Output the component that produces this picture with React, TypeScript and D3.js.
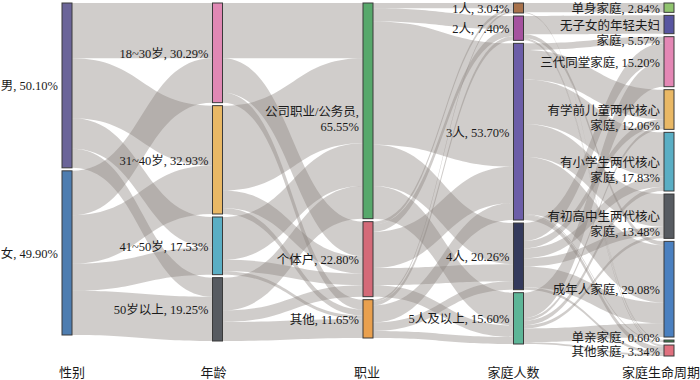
import React from 'react';
import * as d3 from 'd3';

// ---------- data ----------
const genderNames = ['男', '女'];
const genderValues = [50.10, 49.90];
const ageNames = ['18~30岁', '31~40岁', '41~50岁', '50岁以上'];
const ageValues = [30.29, 32.93, 17.53, 19.25];
const jobNames = ['公司职业/公务员', '个体户', '其他'];
const jobValues = [65.55, 22.80, 11.65];
const sizeNames = ['1人', '2人', '3人', '4人', '5人及以上'];
const sizeValues = [3.04, 7.40, 53.70, 20.26, 15.60];
const lifeNames = ['单身家庭', '无子女的年轻夫妇\n家庭', '三代同堂家庭', '有学前儿童两代核心\n家庭', '有小学生两代核心\n家庭', '有初高中生两代核心\n家庭', '成年人家庭', '单亲家庭', '其他家庭'];
const lifeValues = [2.84, 5.57, 15.20, 12.06, 17.83, 13.48, 29.08, 0.60, 3.34];
const columnTitles = ['性别', '年龄', '职业', '家庭人数', '家庭生命周期'];

// flows between adjacent columns (rows: source, cols: target)
const genderToAge = [
  [16.8, 18.2, 9.3, 5.8],
  [13.49, 14.73, 8.23, 13.45],
];
const ageToJob = [
  [16.8, 10.5, 2.99],
  [25.8, 5.3, 1.83],
  [13.0, 3.5, 1.03],
  [9.95, 3.5, 5.8],
];
const jobToSize = [
  [1.6, 4.0, 37.5, 12.5, 9.95],
  [0.9, 2.2, 11.0, 5.2, 3.5],
  [0.54, 1.2, 5.2, 2.56, 2.15],
];
const sizeToLife = [
  [2.84, 0, 0, 0, 0, 0, 0, 0, 0.2],
  [0, 5.57, 0, 0, 0, 0, 1.2, 0.3, 0.33],
  [0, 0, 2.0, 9.0, 13.5, 10.0, 17.4, 0.3, 1.5],
  [0, 0, 5.5, 2.2, 3.0, 2.5, 6.3, 0, 0.76],
  [0, 0, 7.7, 0.86, 1.33, 0.98, 4.18, 0, 0.55],
];

// ---------- styles ----------
const genderColors = ['#6b6599', '#4e7db0'];
const ageColors = ['#e088b4', '#e9b865', '#5aaec4', '#575b61'];
const jobColors = ['#57a86b', '#d46a78', '#e9a04e'];
const sizeColors = ['#a8714a', '#a5529f', '#6c5ea8', '#343a5c', '#5db597'];
const lifeColors = ['#90c46e', '#5855a0', '#e487b5', '#e9b865', '#5aaec4', '#575b61', '#4a80c0', '#3d8a4f', '#e0707e'];

const W = 700;
const H = 380;
const LEFT = 62;
const RIGHT = 674;
const NODE_W = 10;
const TOP = 3;
const BOTTOM = 356;
const GAP = 3;
const LINE_H = 15;
const LABEL_PAD = 4;
const FONT = '"Liberation Serif", "Times New Roman", "Noto Sans CJK SC", serif';
const titleDx = [5, -4, -1, -5, -8];

type Node = { name: string; value: number; color: string; col: number; x0: number; x1: number; y0: number; y1: number; outY: number; inY: number; labelDy: number; wrapValue: boolean };
type Link = { s: Node; t: Node; v: number; sy0: number; sy1: number; ty0: number; ty1: number };

function buildLayout() {
  const cols = [
    { names: genderNames, values: genderValues, colors: genderColors },
    { names: ageNames, values: ageValues, colors: ageColors },
    { names: jobNames, values: jobValues, colors: jobColors },
    { names: sizeNames, values: sizeValues, colors: sizeColors },
    { names: lifeNames, values: lifeValues, colors: lifeColors },
  ];
  const matrices = [genderToAge, ageToJob, jobToSize, sizeToLife];
  const x = d3.scaleLinear().domain([0, cols.length - 1]).range([LEFT, RIGHT - NODE_W]);
  const ky = d3.min(cols, (c) => (BOTTOM - TOP - (c.values.length - 1) * GAP) / d3.sum(c.values)) as number;

  const nodes: Node[][] = cols.map((c, ci) => {
    let y = TOP;
    return c.values.map((v, i) => {
      const n: Node = {
        name: c.names[i], value: v, color: c.colors[i], col: ci,
        x0: x(ci), x1: x(ci) + NODE_W, y0: y, y1: y + v * ky, outY: y, inY: y,
        labelDy: c.names[i] === '单亲家庭' ? -4.5 : 0,
        wrapValue: c.names[i] === '公司职业/公务员',
      };
      y = n.y1 + GAP;
      return n;
    });
  });

  const links: Link[] = [];
  matrices.forEach((m, ci) => {
    m.forEach((row, i) => {
      row.forEach((v, j) => {
        if (v <= 0) return;
        links.push({ s: nodes[ci][i], t: nodes[ci + 1][j], v, sy0: 0, sy1: 0, ty0: 0, ty1: 0 });
      });
    });
  });
  nodes.flat().forEach((n) => {
    links.filter((l) => l.s === n).sort((a, b) => a.t.y0 - b.t.y0).forEach((l) => {
      l.sy0 = n.outY; l.sy1 = n.outY + l.v * ky; n.outY = l.sy1;
    });
    links.filter((l) => l.t === n).sort((a, b) => a.s.y0 - b.s.y0).forEach((l) => {
      l.ty0 = n.inY; l.ty1 = n.inY + l.v * ky; n.inY = l.ty1;
    });
  });
  return { nodes, links, x };
}

function linkPath(l: Link) {
  const xs = l.s.x1;
  const xt = l.t.x0;
  const xm = (xs + xt) / 2;
  const p = d3.path();
  p.moveTo(xs, l.sy0);
  p.bezierCurveTo(xm, l.sy0, xm, l.ty0, xt, l.ty0);
  p.lineTo(xt, l.ty1);
  p.bezierCurveTo(xm, l.ty1, xm, l.sy1, xs, l.sy1);
  p.closePath();
  return p.toString();
}

function labelLines(n: Node) {
  const val = `${n.value.toFixed(2)}%`;
  if (n.wrapValue) return [`${n.name},`, val];
  return `${n.name}, ${val}`.split('\n');
}

export default function App() {
  const { nodes, links, x } = buildLayout();
  return (
    <svg width={W} height={H} style={{ position: 'absolute', left: 0, top: 0, background: '#fff' }} fontFamily={FONT}>
      <g>
        {links.map((l, i) => (
          <path key={i} d={linkPath(l)} fill="#8a817c" fillOpacity={0.4} />
        ))}
      </g>
      <g>
        {nodes.flat().map((n, i) => (
          <rect key={i} x={n.x0} y={n.y0} width={n.x1 - n.x0} height={Math.max(n.y1 - n.y0, 1)} fill={n.color} stroke="#3a3a3a" strokeWidth={1} />
        ))}
      </g>
      <g fontSize={12.5} fill="#1a1a1a">
        {nodes.flat().map((n, i) => {
          const lines = labelLines(n);
          const cy = (n.y0 + n.y1) / 2 + 1 + n.labelDy;
          return (
            <text key={i} x={n.x0 - LABEL_PAD} y={cy} textAnchor="end" dominantBaseline="central">
              {lines.map((t, k) => (
                <tspan key={k} x={n.x0 - LABEL_PAD} y={cy + k * LINE_H}>{t}</tspan>
              ))}
            </text>
          );
        })}
      </g>
      <g fontSize={13} fill="#1a1a1a">
        {columnTitles.map((t, i) => (
          <text key={i} x={x(i) + NODE_W / 2 + titleDx[i]} y={372} textAnchor="middle" dominantBaseline="central">{t}</text>
        ))}
      </g>
    </svg>
  );
}
